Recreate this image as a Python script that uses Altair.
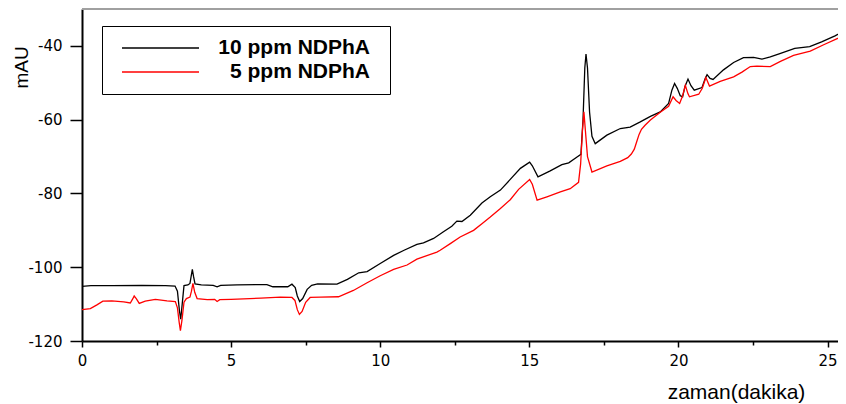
import altair as alt
import pandas as pd

# ---- data ----
t_10 = [0.00, 0.30, 1.00, 2.00, 2.80, 3.12, 3.20, 3.27, 3.31, 3.36, 3.42, 3.55, 3.62, 3.66, 3.70,
        3.74, 3.79, 4.00, 4.40, 4.53, 4.65, 5.20, 6.00, 6.20, 6.40, 6.90, 7.04, 7.15, 7.22, 7.30,
        7.40, 7.55, 7.70, 7.90, 8.55, 8.90, 9.28, 9.56, 10.00, 10.45, 10.80, 11.23, 11.45, 11.79,
        12.12, 12.40, 12.57, 12.74, 13.02, 13.41, 13.69, 14.03, 14.36, 14.70, 15.01, 15.10, 15.29,
        15.70, 16.09, 16.32, 16.60, 16.73, 16.80, 16.86, 16.90, 16.95, 17.02, 17.10, 17.21, 17.60,
        18.05, 18.38, 18.72, 19.06, 19.39, 19.67, 19.78, 19.87, 19.96, 20.06, 20.14, 20.22, 20.32,
        20.42, 20.53, 20.79, 20.90, 20.96, 21.06, 21.16, 21.51, 21.85, 22.18, 22.52, 22.80, 23.08,
        23.40, 23.90, 24.40, 24.80, 25.25, 25.62]
v_10 = [-105.2, -105.0, -105.0, -104.9, -105.0, -105.1, -106.5, -112.0, -114.1, -110.0, -105.0,
        -104.8, -104.4, -102.5, -100.6, -102.5, -104.5, -104.8, -104.9, -105.3, -104.9, -104.8,
        -104.7, -104.7, -105.3, -105.3, -104.6, -105.5, -107.8, -109.3, -108.5, -106.0, -104.9,
        -104.5, -104.6, -103.3, -101.5, -101.2, -99.0, -96.8, -95.4, -93.8, -93.4, -92.2, -90.4,
        -88.9, -87.5, -87.6, -85.9, -82.6, -80.9, -79.1, -76.2, -73.2, -71.5, -72.5, -75.5, -73.9,
        -72.2, -71.7, -70.1, -69.4, -60.0, -46.0, -42.2, -46.0, -58.0, -64.5, -66.5, -64.2, -62.4,
        -62.0, -60.6, -59.1, -57.9, -55.6, -52.0, -50.2, -51.5, -53.5, -53.8, -51.0, -49.0, -50.8,
        -52.0, -51.3, -48.8, -47.8, -48.8, -49.1, -46.5, -44.5, -43.2, -43.1, -43.6, -43.0, -42.1,
        -40.7, -40.2, -38.9, -37.3, -35.7]

t_5 = [0.00, 0.28, 0.50, 0.70, 1.00, 1.40, 1.62, 1.70, 1.75, 1.82,
       1.92, 2.12, 2.46, 2.85, 3.13, 3.20, 3.26, 3.30, 3.35, 3.42,
       3.50, 3.62, 3.67, 3.72, 3.78, 3.86, 4.20, 4.45, 4.53, 4.62,
       5.00, 6.00, 6.65, 7.04, 7.14, 7.22, 7.29, 7.38, 7.50, 7.65,
       8.00, 8.60, 9.10, 9.56, 10.00, 10.45, 10.90, 11.23, 11.90, 12.01,
       12.35, 12.68, 13.13, 13.41, 13.69, 14.03, 14.36, 14.64, 15.01, 15.10,
       15.26, 15.59, 16.04, 16.37, 16.65, 16.72, 16.78, 16.83, 16.88, 16.95,
       17.10, 17.60, 18.05, 18.30, 18.42, 18.52, 18.60, 18.68, 18.76, 18.88,
       19.06, 19.39, 19.67, 19.82, 19.92, 20.04, 20.14, 20.23, 20.32, 20.37,
       20.68, 20.80, 20.92, 21.04, 21.40, 21.85, 22.13, 22.41, 22.63, 23.08,
       23.42, 23.86, 24.42, 24.87, 25.62]
v_5 = [-111.5, -111.2, -110.2, -109.2, -109.1, -109.4, -109.7, -108.6, -107.8, -108.5,
       -109.8, -109.2, -108.7, -109.1, -109.3, -111.0, -115.0, -117.2, -114.5, -109.5,
       -108.5, -108.1, -106.5, -104.4, -106.8, -108.5, -108.8, -108.7, -109.3, -108.8,
       -108.7, -108.4, -108.1, -108.2, -109.0, -111.5, -112.8, -112.0, -109.5, -108.2,
       -108.1, -108.0, -106.3, -104.2, -102.3, -100.6, -99.4, -97.8, -95.9, -95.4,
       -93.6, -91.8, -90.0, -88.2, -86.4, -84.1, -81.7, -78.9, -76.2, -77.5,
       -81.8, -80.9, -79.6, -78.7, -77.0, -72.0, -63.0, -57.9, -63.0, -70.0,
       -74.2, -72.5, -71.3, -70.3, -69.3, -68.0, -66.0, -64.0, -62.6, -61.5,
       -60.1, -58.0, -56.4, -53.8, -54.8, -55.6, -53.5, -50.7, -53.0, -53.8,
       -53.1, -51.5, -48.6, -50.9, -49.6, -48.4, -47.1, -45.6, -45.5, -45.6,
       -44.2, -42.6, -41.4, -39.7, -36.9]

series_names = ["10 ppm NDPhA", "5 ppm NDPhA"]
series_colors = ["#000000", "#ff0000"]

x_domain = [0, 25.35]
y_domain = [-120, -30]
x_tick_values = [0, 2.5, 5, 7.5, 10, 12.5, 15, 17.5, 20, 22.5, 25]
y_tick_values = [-120, -110, -100, -90, -80, -70, -60, -50, -40, -30]

df = pd.concat([
    pd.DataFrame({"t": t_10, "v": v_10, "s": series_names[0]}),
    pd.DataFrame({"t": t_5, "v": v_5, "s": series_names[1]}),
], ignore_index=True)

frame = pd.DataFrame({"x0": [x_domain[0]], "x1": [x_domain[1]], "y": [y_domain[1]]})

x_axis = alt.Axis(
    values=x_tick_values,
    labelExpr="datum.value % 5 == 0 ? '' + datum.value : ''",
    tickSize={"condition": {"test": "datum.value % 5 == 0", "value": 6}, "value": 4},
    tickColor="black", tickWidth=1.5,
    domainColor="black", domainWidth=2,
    grid=False, labelFlush=False, labelOverlap=False,
    labelFont="DejaVu Sans", labelFontSize=15, labelColor="black", labelPadding=6,
    title="zaman(dakika)", titleFont="Liberation Sans", titleFontSize=21,
    titleFontWeight="normal", titleColor="black",
    titleX=654, titleY=57, titleAlign="center", titleBaseline="alphabetic",
)

y_axis = alt.Axis(
    values=y_tick_values,
    labelExpr="datum.value % 20 == 0 ? '' + datum.value : ''",
    tickSize={"condition": {"test": "datum.value % 20 == 0", "value": 12}, "value": 6},
    tickColor="black", tickWidth=1.5,
    domainColor="black", domainWidth=2,
    grid=False, labelFlush=False, labelOverlap=False,
    labelFont="DejaVu Sans", labelFontSize=15, labelColor="black", labelPadding=8,
    title="mAU", titleFont="Liberation Sans", titleFontSize=19,
    titleFontWeight="normal", titleColor="black",
    titleAngle=270, titleX=-55, titleY=58, titleAlign="center", titleBaseline="alphabetic",
)

legend = alt.Legend(
    title=" ", titleOrient="right", titlePadding=8, titleFontSize=1,
    orient="none", legendX=20, legendY=17, direction="vertical",
    symbolType="stroke", symbolSize=5929, symbolStrokeWidth=1.5, clipHeight=20,
    rowPadding=3, padding=12, strokeColor="black", fillColor="white",
    symbolOffset=7, labelOffset=170, labelAlign="right", labelLimit=400,
    labelFont="Liberation Sans", labelFontSize=21, labelFontWeight="bold", labelColor="black",
)

lines = alt.Chart(df).mark_line(strokeWidth=1.3, clip=True).encode(
    x=alt.X("t:Q", scale=alt.Scale(domain=x_domain, nice=False, zero=False), axis=x_axis),
    y=alt.Y("v:Q", scale=alt.Scale(domain=y_domain, nice=False, zero=False), axis=y_axis),
    color=alt.Color("s:N", scale=alt.Scale(domain=series_names, range=series_colors), legend=legend),
)

top_border = alt.Chart(frame).mark_rule(color="#a0a0a0", strokeWidth=2).encode(
    x="x0:Q", x2="x1:Q", y="y:Q",
)

chart = alt.layer(lines, top_border).properties(
    width=756, height=332,
    autosize=alt.AutoSizeParams(type="none"),
    padding={"left": 74, "top": 1, "right": 0, "bottom": 63},
    background="white",
).configure_view(stroke="transparent")

chart.save("out.html", embed_options={"renderer": "svg", "actions": False})
